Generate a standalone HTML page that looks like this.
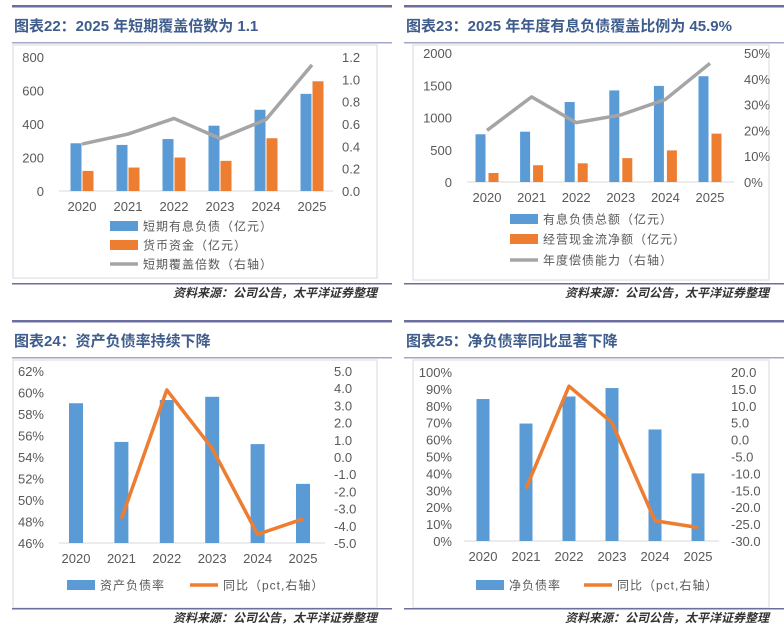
<!DOCTYPE html>
<html><head><meta charset="utf-8"><style>
body{margin:0;background:#fff;width:784px;height:628px;overflow:hidden;font-family:"Liberation Sans","Noto Sans CJK SC",sans-serif}
svg{position:absolute;left:0;top:0}
</style></head><body>
<svg id="s" width="784" height="628" xmlns="http://www.w3.org/2000/svg"></svg>
<script>
const years=["2020","2021","2022","2023","2024","2025"];
// chart 22
const c22Debt=[285,275,310,390,485,580];
const c22Cash=[120,140,200,180,315,655];
const c22Ratio=[0.42,0.51,0.65,0.47,0.64,1.13];
const c22LeftTicks=["0","200","400","600","800"];
const c22RightTicks=["0.0","0.2","0.4","0.6","0.8","1.0","1.2"];
// chart 23
const c23Debt=[740,780,1240,1420,1490,1640];
const c23Ocf=[140,260,290,370,490,750];
const c23Ability=[20,33,23,26,32,46];
const c23LeftTicks=["0","500","1000","1500","2000"];
const c23RightTicks=["0%","10%","20%","30%","40%","50%"];
// chart 24
const c24Rate=[59.0,55.4,59.3,59.6,55.2,51.5];
const c24Yoy=[null,-3.6,3.9,0.5,-4.5,-3.6];
const c24LeftTicks=["46%","48%","50%","52%","54%","56%","58%","60%","62%"];
const c24RightTicks=["-5.0","-4.0","-3.0","-2.0","-1.0","0.0","1.0","2.0","3.0","4.0","5.0"];
// chart 25
const c25Rate=[84,69.5,85.5,90.5,66,40];
const c25Yoy=[null,-14.5,15.8,5,-24,-26];
const c25LeftTicks=["0%","10%","20%","30%","40%","50%","60%","70%","80%","90%","100%"];
const c25RightTicks=["-30.0","-25.0","-20.0","-15.0","-10.0","-5.0","0.0","5.0","10.0","15.0","20.0"];

const S=document.getElementById('s');
const NS="http://www.w3.org/2000/svg";
function mk(tag,attrs,parent,text){const e=document.createElementNS(NS,tag);for(const k in attrs)e.setAttribute(k,attrs[k]);if(text!==undefined)e.textContent=text;(parent||S).appendChild(e);return e;}
const BLUE="#5b9bd5",ORANGE="#ed7d31",GRAY="#a5a5a5",TXT="#595959";

function panel(ox,oy,title,boxX,boxH,ruleY,name){
  const g=mk('g',{});
  
  
  const r1=mk('rect',{x:ox+12,y:oy+5,width:380,height:2.5,fill:'#6b6e9f'},g);
  
  const t=mk('text',{x:ox+14,y:oy+31,'font-size':15,'font-weight':'bold',fill:'#3e5c8c'},g,title);
  
  const r2=mk('rect',{x:ox+12,y:oy+42,width:380,height:1.5,fill:'#a4a7c9'},g);
  
  const b=mk('rect',{x:ox+boxX,y:oy+45,width:377-boxX,height:boxH,fill:'#fff',stroke:'#d9d9d9'},g);
  
  const r3=mk('rect',{x:ox+12,y:oy+ruleY,width:380,height:1.5,fill:'#6b6e9f'},g);
  
  const src=mk('text',{x:ox+377,y:oy+ruleY+14,'font-size':12,'font-style':'italic','font-weight':'bold','text-anchor':'end',fill:'#333'},g,'资料来源：公司公告，太平洋证券整理');
  
  return g;
}

function chart(cfg){
  const g=mk('g',{});
  
  
  const yL=v=>cfg.bottom-(v-cfg.lmin)/(cfg.lmax-cfg.lmin)*(cfg.bottom-cfg.top);
  const yR=v=>cfg.bottom-(v-cfg.rmin)/(cfg.rmax-cfg.rmin)*(cfg.bottom-cfg.top);
  const xC=i=>cfg.x0+i*cfg.step;
  cfg.lticks.forEach((t,i)=>{const v=cfg.lmin+i*(cfg.lmax-cfg.lmin)/(cfg.lticks.length-1);
    const e=mk('text',{x:cfg.lx,y:yL(v)+5,'font-size':13,fill:TXT,'text-anchor':'end'},g,t);
    });
  cfg.rticks.forEach((t,i)=>{const v=cfg.rmin+i*(cfg.rmax-cfg.rmin)/(cfg.rticks.length-1);
    const e=mk('text',{x:cfg.rx,y:yR(v)+5,'font-size':13,fill:TXT},g,t);
    });
  const ax=mk('line',{x1:cfg.ax0,x2:cfg.ax1,y1:cfg.bottom,y2:cfg.bottom,stroke:'#d9d9d9'},g);
  
  years.forEach((y,i)=>{const e=mk('text',{x:xC(i),y:cfg.bottom+20,'font-size':13,fill:TXT,'text-anchor':'middle'},g,y);
    });
  const bw=cfg.bw,n=cfg.bars.length,gap=cfg.gap||0;
  cfg.bars.forEach((s,si)=>{
    s.data.forEach((v,i)=>{
      const x=xC(i)-(n*bw+(n-1)*gap)/2+si*(bw+gap);
      const r=mk('rect',{x:x,y:yL(v),width:bw,height:cfg.bottom-yL(v),fill:s.color},g);
      
      
    });
  });
  let d="";
  cfg.line.data.forEach((v,i)=>{if(v===null)return;d+=(d?"L":"M")+xC(i)+","+yR(v);});
  const p=mk('path',{d:d,fill:'none',stroke:cfg.line.color,'stroke-width':3.5,'stroke-linejoin':'round'},g);
  
  
  cfg.legend.forEach(l=>{
    if(l.type==='bar'){const r=mk('rect',{x:l.x,y:l.y-5,width:28,height:10,fill:l.color},g);
      }
    else{const r=mk('line',{x1:l.x,x2:l.x+28,y1:l.y,y2:l.y,stroke:l.color,'stroke-width':3.5},g);
      }
    const t=mk('text',{x:l.x+33,y:l.y+4.5,'font-size':12,fill:TXT,'letter-spacing':'1'},g,l.text);
    
  });
}

panel(0,0,'图表22：2025 年短期覆盖倍数为 1.1',13,233,283,'panel-22');
panel(392,0,'图表23：2025 年年度有息负债覆盖比例为 45.9%',21,235,283,'panel-23');
panel(0,315,'图表24：资产负债率持续下降',13,248,293,'panel-24');
panel(392,315,'图表25：净负债率同比显著下降',21,248,293,'panel-25');

chart({name:'chart-22',top:57,bottom:191,lmin:0,lmax:800,rmin:0,rmax:1.2,lticks:c22LeftTicks,rticks:c22RightTicks,
  lx:44,rx:342,ax0:59,ax1:333,x0:82,step:46,bw:11,gap:1,
  bars:[{key:'short-debt',data:c22Debt,color:BLUE},{key:'cash',data:c22Cash,color:ORANGE}],
  line:{key:'coverage',data:c22Ratio,color:GRAY},
  legend:[{type:'bar',x:110,y:226,color:BLUE,text:'短期有息负债（亿元）'},{type:'bar',x:110,y:245,color:ORANGE,text:'货币资金（亿元）'},{type:'line',x:110,y:264,color:GRAY,text:'短期覆盖倍数（右轴）'}]});
chart({name:'chart-23',top:53,bottom:182,lmin:0,lmax:2000,rmin:0,rmax:50,lticks:c23LeftTicks,rticks:c23RightTicks,
  lx:452,rx:744,ax0:467,ax1:734,x0:487,step:44.6,bw:10,gap:3,
  bars:[{key:'total-debt',data:c23Debt,color:BLUE},{key:'operating-cash',data:c23Ocf,color:ORANGE}],
  line:{key:'repay-ability',data:c23Ability,color:GRAY},
  legend:[{type:'bar',x:510,y:219,color:BLUE,text:'有息负债总额（亿元）'},{type:'bar',x:510,y:239,color:ORANGE,text:'经营现金流净额（亿元）'},{type:'line',x:510,y:260,color:GRAY,text:'年度偿债能力（右轴）'}]});
chart({name:'chart-24',top:371,bottom:543,lmin:46,lmax:62,rmin:-5,rmax:5,lticks:c24LeftTicks,rticks:c24RightTicks,
  lx:44,rx:334,ax0:59,ax1:325,x0:76,step:45.4,bw:14,
  bars:[{key:'asset-liability',data:c24Rate,color:BLUE}],
  line:{key:'yoy',data:c24Yoy,color:ORANGE},
  legend:[{type:'bar',x:67,y:585,color:BLUE,text:'资产负债率'},{type:'line',x:190,y:585,color:ORANGE,text:'同比（pct,右轴）'}]});
chart({name:'chart-25',top:372,bottom:541,lmin:0,lmax:100,rmin:-30,rmax:20,lticks:c25LeftTicks,rticks:c25RightTicks,
  lx:452,rx:731,ax0:464,ax1:719,x0:483,step:43,bw:13,
  bars:[{key:'net-debt',data:c25Rate,color:BLUE}],
  line:{key:'yoy',data:c25Yoy,color:ORANGE},
  legend:[{type:'bar',x:476,y:585,color:BLUE,text:'净负债率'},{type:'line',x:584,y:585,color:ORANGE,text:'同比（pct,右轴）'}]});
</script>
</body></html>
